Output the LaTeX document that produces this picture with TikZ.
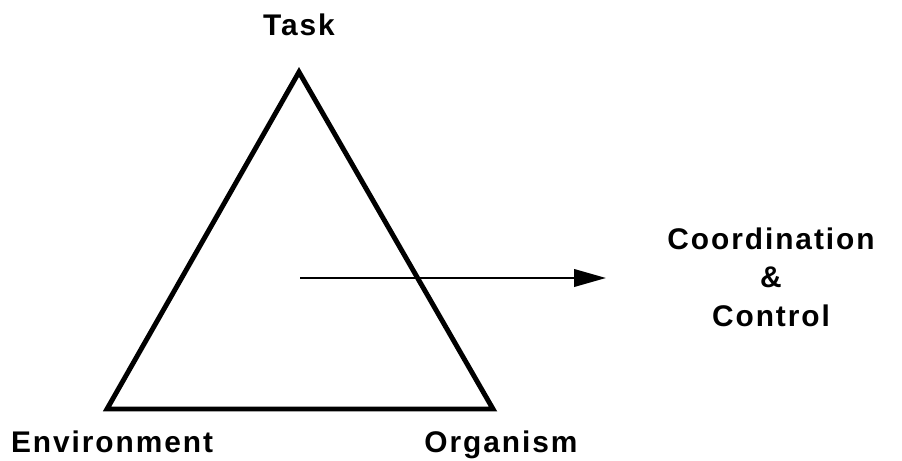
\documentclass[tikz,border=0pt]{standalone}
\usepackage{fontspec}
\setmainfont{Liberation Sans}
\usetikzlibrary{arrows.meta,positioning}

\begin{document}
\begin{tikzpicture}[
    x=0.02cm, y=-0.02cm,
    corner/.style={
      font=\bfseries\fontsize{17}{22}\selectfont\addfontfeatures{LetterSpace=6.5},
      inner sep=0pt
    },
    side/.style={line width=2.8pt, line join=miter},
    flow/.style={-{Triangle[length=6.4mm, width=3.5mm]}, line width=1.3pt}
  ]
    \useasboundingbox (0,0) rectangle (902,460);

    \coordinate (top) at (299,72);
    \coordinate (left) at (107,409);
    \coordinate (right) at (493,409);
    \coordinate (start) at (300,278);
    \coordinate (tip) at (606,278);

    \node[corner, anchor=base] (task) at (299,35) {Task};
    \node[corner, anchor=base] (env) at (112,452) {Environment};
    \node[corner, anchor=base] (org) at (501,452) {Organism};
    \node[corner, align=center] (coord) at (771,277) {Coordination\\\&\\Control};

    \draw[side] (top) -- (left) -- (right) -- cycle;
    \draw[flow] (start) -- (tip);
  \end{tikzpicture}
\end{document}
